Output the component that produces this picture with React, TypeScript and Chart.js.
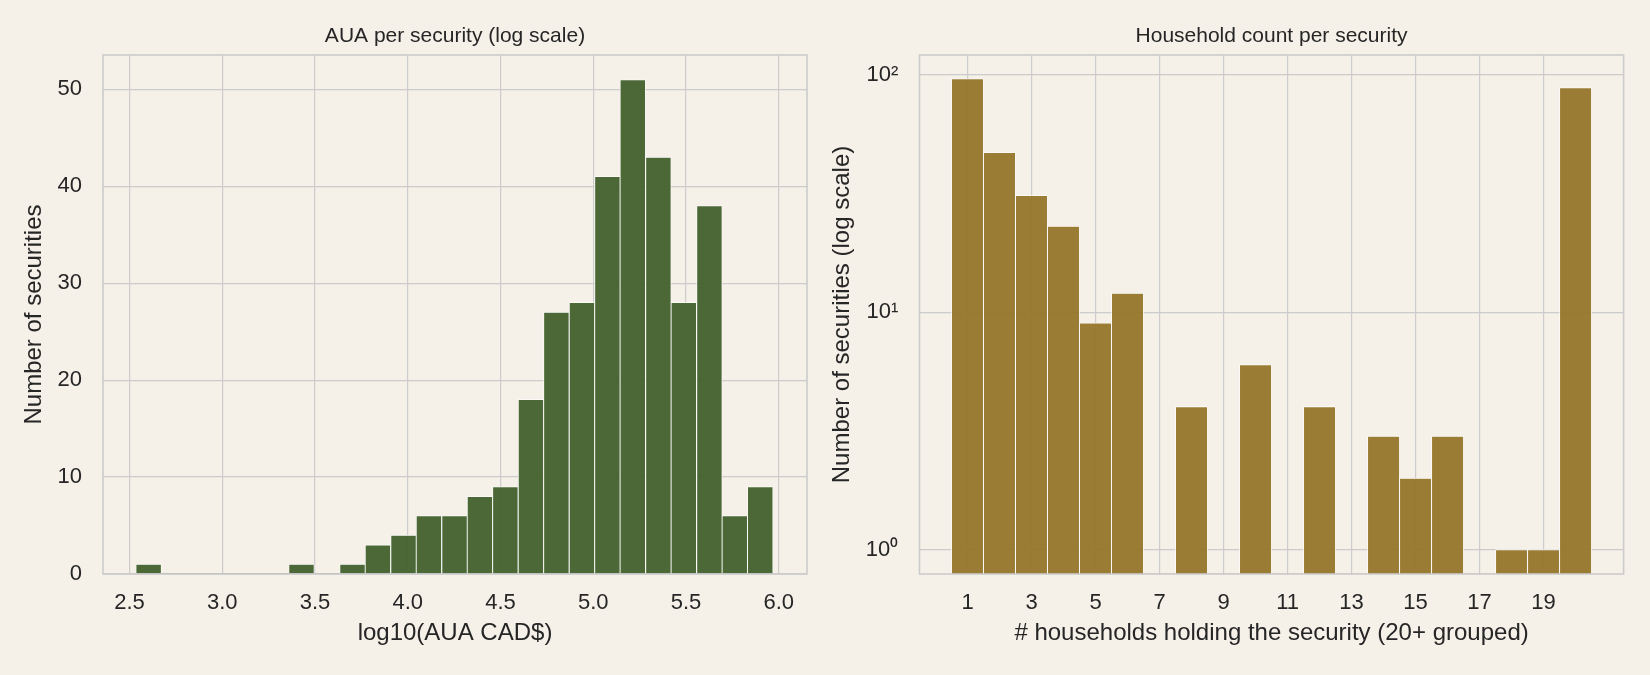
import { useEffect, useRef } from 'react';
import { Chart, registerables } from 'chart.js';

Chart.register(...registerables);

// Histogram of log10 AUA per security: bin centres and counts
const aumBinCenters = [
  2.603, 2.740, 2.878, 3.015, 3.152, 3.290, 3.427, 3.565, 3.702, 3.839,
  3.977, 4.114, 4.252, 4.389, 4.526, 4.664, 4.801, 4.939, 5.076, 5.213,
  5.351, 5.488, 5.626, 5.763, 5.900,
];
const aumCounts = [
  1, 0, 0, 0, 0, 0, 1, 0, 1, 3,
  4, 6, 6, 8, 9, 18, 27, 28, 41, 51,
  43, 28, 38, 6, 9,
];
const aumTicks = [2.5, 3.0, 3.5, 4.0, 4.5, 5.0, 5.5, 6.0];
const aumCountTicks = [0, 10, 20, 30, 40, 50];

// Number of households holding each security (20 = "20+")
const householdBins = [1, 2, 3, 4, 5, 6, 7, 8, 9, 10, 11, 12, 13, 14, 15, 16, 17, 18, 19, 20];
const householdCounts = [96, 47, 31, 23, 9, 12, 0, 4, 0, 6, 0, 4, 0, 3, 2, 3, 0, 1, 1, 88];
const householdTicks = [1, 3, 5, 7, 9, 11, 13, 15, 17, 19];
const logTicks = [1, 10, 100];

const BG = '#F5F0E8';
const INK = '#262626';
const GRID = '#CCCCCC';
const FAMILY = "'Liberation Sans', Arial, Helvetica, sans-serif";
const GREEN = 'rgba(62, 94, 40, 0.93)';
const GOLD = 'rgba(147, 115, 38, 0.93)';

const SUPERSCRIPTS: Record<number, string> = { 0: '⁰', 1: '¹', 2: '²', 3: '³' };

// Box around the plotting area, drawn over the bars like axes spines
const framePlugin = {
  id: 'frame',
  afterDatasetsDraw(chart: any) {
    const { ctx, chartArea: a } = chart;
    ctx.save();
    ctx.strokeStyle = GRID;
    ctx.lineWidth = 1.6;
    ctx.strokeRect(a.left, a.top, a.right - a.left, a.bottom - a.top);
    ctx.restore();
  },
};

const tickFont = { family: FAMILY, size: 22 };
const labelFont = { family: FAMILY, size: 24 };

function barDataset(xs: number[], ys: number[], color: string) {
  return {
    data: xs.map((x, i) => ({ x, y: ys[i] })),
    backgroundColor: color,
    borderColor: '#FFFFFF',
    borderWidth: (c: any) => (c.raw && c.raw.y > 0 ? 0.8 : 0),
    borderSkipped: 'start',
    barPercentage: 1,
    categoryPercentage: 1,
  };
}

// Panel title, centred over the plotting area rather than the whole canvas
function titleOptions(text: string) {
  return {
    display: true,
    fullSize: false,
    text,
    color: INK,
    font: { family: FAMILY, size: 21, weight: 'normal', lineHeight: 1.2 },
    padding: { top: 23.4, bottom: 6.4 },
  };
}

function aumConfig(): any {
  return {
    type: 'bar',
    data: { datasets: [barDataset(aumBinCenters, aumCounts, GREEN)] },
    plugins: [framePlugin],
    options: {
      animation: false,
      responsive: false,
      layout: { padding: { left: 0, right: 18, top: 0, bottom: 0 } },
      plugins: {
        legend: { display: false },
        tooltip: { enabled: false },
        title: titleOptions('AUA per security (log scale)'),
      },
      scales: {
        x: {
          type: 'linear',
          offset: false,
          min: 2.357,
          max: 6.152,
          afterBuildTicks: (s: any) => {
            s.ticks = aumTicks.map((v) => ({ value: v }));
          },
          afterFit: (s: any) => {
            s.height = 101;
          },
          grid: { color: GRID, lineWidth: 1.2, drawTicks: false, offset: false },
          border: { display: false },
          ticks: {
            padding: 15.6,
            font: tickFont,
            color: INK,
            maxRotation: 0,
            autoSkip: false,
            callback: (v: any) => Number(v).toFixed(1),
          },
          title: {
            display: true,
            text: 'log10(AUA CAD$)',
            color: INK,
            font: labelFont,
            padding: { top: 0, bottom: 27.1 },
          },
        },
        y: {
          type: 'linear',
          min: 0,
          max: 53.55,
          afterBuildTicks: (s: any) => {
            s.ticks = aumCountTicks.map((v) => ({ value: v }));
          },
          afterFit: (s: any) => {
            s.width = 103;
          },
          grid: { color: GRID, lineWidth: 1.2, drawTicks: false },
          border: { display: false },
          ticks: { padding: 21, font: tickFont, color: INK, autoSkip: false },
          title: {
            display: true,
            text: 'Number of securities',
            color: INK,
            font: labelFont,
            padding: { top: 19.6, bottom: 0 },
          },
        },
      },
    },
  };
}

function householdConfig(): any {
  return {
    type: 'bar',
    data: { datasets: [barDataset(householdBins, householdCounts, GOLD)] },
    plugins: [framePlugin],
    options: {
      animation: false,
      responsive: false,
      layout: { padding: { left: 0, right: 26.4, top: 0, bottom: 0 } },
      plugins: {
        legend: { display: false },
        tooltip: { enabled: false },
        title: titleOptions('Household count per security'),
      },
      scales: {
        x: {
          type: 'linear',
          offset: false,
          min: -0.5,
          max: 21.5,
          afterBuildTicks: (s: any) => {
            s.ticks = householdTicks.map((v) => ({ value: v }));
          },
          afterFit: (s: any) => {
            s.height = 101;
          },
          grid: { color: GRID, lineWidth: 1.2, drawTicks: false, offset: false },
          border: { display: false },
          ticks: {
            padding: 15.6,
            font: tickFont,
            color: INK,
            maxRotation: 0,
            autoSkip: false,
            callback: (v: any) => String(v),
          },
          title: {
            display: true,
            text: '# households holding the security (20+ grouped)',
            color: INK,
            font: labelFont,
            padding: { top: 0, bottom: 27.1 },
          },
        },
        y: {
          type: 'logarithmic',
          min: 0.79,
          max: 121,
          afterBuildTicks: (s: any) => {
            s.ticks = logTicks.map((v) => ({ value: v }));
          },
          afterFit: (s: any) => {
            s.width = 94.5;
          },
          grid: { color: GRID, lineWidth: 1.2, drawTicks: false },
          border: { display: false },
          ticks: {
            padding: 21.2,
            font: tickFont,
            color: INK,
            autoSkip: false,
            callback: (v: any) => '10' + SUPERSCRIPTS[Math.round(Math.log10(Number(v)))],
          },
          title: {
            display: true,
            text: 'Number of securities (log scale)',
            color: INK,
            font: labelFont,
            padding: { top: 3, bottom: 0 },
          },
        },
      },
    },
  };
}

function ChartCanvas({ makeConfig }: { makeConfig: () => any }) {
  const ref = useRef<HTMLCanvasElement | null>(null);
  useEffect(() => {
    if (!ref.current) return;
    const chart = new Chart(ref.current, makeConfig());
    return () => chart.destroy();
  }, [makeConfig]);
  return <canvas ref={ref} width={825} height={675} style={{ display: 'block', width: 825, height: 675 }} />;
}

export default function App() {
  return (
    <div
      style={{
        position: 'fixed',
        left: 0,
        top: 0,
        width: 1650,
        height: 675,
        background: BG,
        display: 'flex',
        overflow: 'hidden',
      }}
    >
      <ChartCanvas makeConfig={aumConfig} />
      <ChartCanvas makeConfig={householdConfig} />
    </div>
  );
}
